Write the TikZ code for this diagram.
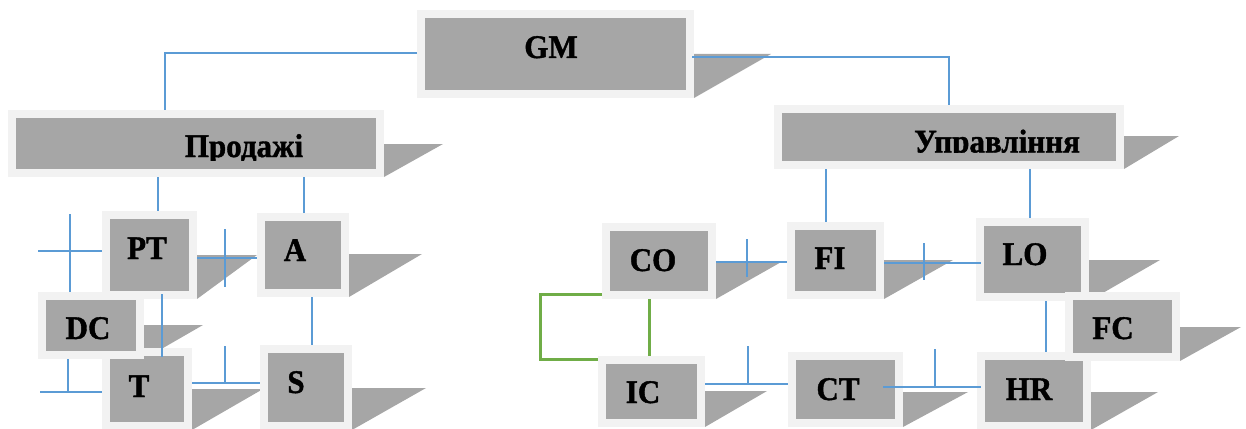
\documentclass[tikz,border=0pt]{standalone}
\usepackage{fontspec}
\setmainfont{Liberation Serif}[FakeStretch=0.94, BoldFeatures={FakeBold=1.2}]
\usetikzlibrary{calc}
\definecolor{framegray}{HTML}{F2F2F2}
\definecolor{boxgray}{HTML}{A6A6A6}
\definecolor{linkblue}{HTML}{5B9BD5}
\definecolor{linkgreen}{HTML}{70AD47}
\pgfdeclarelayer{drops}
\pgfsetlayers{drops,main}
\tikzset{
  unitbox/.style={draw=framegray, fill=boxgray, line width=8pt, inner sep=0pt, outer sep=4pt},
  drop/.style={fill=boxgray},
  caption/.style={anchor=base, inner sep=0pt, font=\fontsize{33}{33}\selectfont\bfseries},
  link/.style={draw=linkblue, line width=1.3pt},
  greenlink/.style={draw=linkgreen, line width=3pt},
}
% #1 name, #2..#5 outer corners (x1,y1,x2,y2), #6 top of the drop wedge, #7 its tip
\newcommand\orgbox[7]{%
  \node[unitbox, minimum width={#4-#2-8}, minimum height={#5-#3-8}] (#1) at ({(#2+#4)/2},{(#3+#5)/2}) {};
  \begin{pgfonlayer}{drops}
    \fill[drop] (#1.south east) -- (#1.south east |- 0,#6) -- (#7,#6) -- cycle;
  \end{pgfonlayer}
}
\begin{document}
\begin{tikzpicture}[x=1pt,y=-1pt]
\useasboundingbox (0,0) rectangle (1246,428);

% boxes
\orgbox{GM}{417}{10}{694}{98}{54}{771}
\orgbox{Prod}{8}{110}{384}{177}{144}{443}
\orgbox{Upr}{774}{105}{1124}{169}{136}{1179}
\orgbox{PT}{102}{211}{197}{299}{255}{257}
\orgbox{A}{257}{213}{349}{297}{254}{422}
\orgbox{T}{102}{348}{192}{430}{389}{263}
\orgbox{S}{260}{345}{352}{430}{388}{426}
\orgbox{DC}{38}{292}{144}{359}{325}{203}
\orgbox{CO}{602}{223}{716}{299}{261}{783}
\orgbox{FI}{787}{222}{884}{299}{260}{953}
\orgbox{LO}{976}{218}{1089}{301}{260}{1160}
\orgbox{HR}{977}{352}{1091}{430}{392}{1158}
\orgbox{IC}{598}{356}{705}{427}{391}{767}
\orgbox{CT}{788}{352}{903}{427}{392}{968}
\orgbox{FC}{1065}{292}{1180}{361}{327}{1241}

% captions
\node[caption] (GM-t) at (551,58) {GM};
\begin{scope}
  \clip (8,110) rectangle (384,160);
  \node[caption] (Prod-t) at (244,157) {Продажі};
\end{scope}
\begin{scope}
  \clip (774,105) rectangle (1124,152.5);
  \node[caption] (Upr-t) at (997,152.5) {Управління};
\end{scope}
\node[caption] (PT-t) at (147,259) {PT};
\node[caption] (A-t) at (295,261) {A};
\node[caption] (DC-t) at (88,339) {DC};
\node[caption] (T-t) at (139,397) {T};
\node[caption] (S-t) at (296,393) {S};
\node[caption] (CO-t) at (653,271) {CO};
\node[caption] (FI-t) at (830,269) {FI};
\node[caption] (LO-t) at (1025,265) {LO};
\node[caption] (FC-t) at (1113,339) {FC};
\node[caption] (HR-t) at (1029,400) {HR};
\node[caption] (IC-t) at (643,403) {IC};
\node[caption] (CT-t) at (838,400) {CT};

% free ends and crossing points
\coordinate (pl) at (38,251);
\coordinate (pt) at (70,214);
\coordinate (tl) at (40,392);
\coordinate (jPA) at (225,258);
\coordinate (jTS) at (225,383);
\coordinate (jCF) at (747,262);
\coordinate (jFL) at (924,263);
\coordinate (jIC) at (748,384);
\coordinate (jCH) at (935,387);

% top level
\draw[link] (GM.west |- 0,53) -| (Prod.north -| 165,0);
\draw[link] ($(GM.east |- 0,57)+(-2,0)$) -| (Upr.north -| 949,0);

% sales branch
\draw[link] (Prod.south -| 158,0) -- (PT.north -| 158,0);
\draw[link] (Prod.south -| 304,0) -- (A.north -| 304,0);
\draw[link] (PT.east |- jPA) -- (A.west |- jPA);
\draw[link] ($(jPA)+(0,-29)$) -- ($(jPA)+(0,29)$);
\draw[link] (pl) -- (PT.west |- pl);
\draw[link] (pt) -- (DC.north -| pt);
\draw[link] (DC.south -| 68,0) -- (68,392);
\draw[link] (tl) -- (T.west |- tl);
\draw[link] ($(PT.south -| 162,0)+(0,-5)$) -- ($(T.north -| 162,0)+(0,9)$);
\draw[link] (A.south -| 312,0) -- (S.north -| 312,0);
\draw[link] (T.east |- jTS) -- (S.west |- jTS);
\draw[link] ($(jTS)+(0,-37)$) -- (jTS);

% management branch
\draw[link] (Upr.south -| 826,0) -- (FI.north -| 826,0);
\draw[link] (Upr.south -| 1030,0) -- (LO.north -| 1030,0);
\draw[link] (CO.east |- jCF) -- (FI.west |- jCF);
\draw[link] ($(jCF)+(0,-23)$) -- ($(jCF)+(0,15)$);
\draw[link] (FI.east |- jFL) -- ($(LO.west |- jFL)+(5,0)$);
\draw[link] ($(jFL)+(0,-20)$) -- ($(jFL)+(0,17)$);
\draw[link] (LO.south -| 1046,0) -- (HR.north -| 1046,0);
\draw[link] (IC.east |- jIC) -- (CT.west |- jIC);
\draw[link] ($(jIC)+(0,-38)$) -- (jIC);
\draw[link] ($(CT.east |- jCH)+(-20,0)$) -- ($(HR.west |- jCH)+(4,0)$);
\draw[link] ($(jCH)+(0,-38)$) -- (jCH);

% control link
\draw[greenlink] (CO.south -| 649,0) -- (IC.north -| 649,0);
\draw[greenlink] (CO.west |- 0,294) -- ++(-62,0) |- (IC.west |- 0,359);
\end{tikzpicture}
\end{document}
